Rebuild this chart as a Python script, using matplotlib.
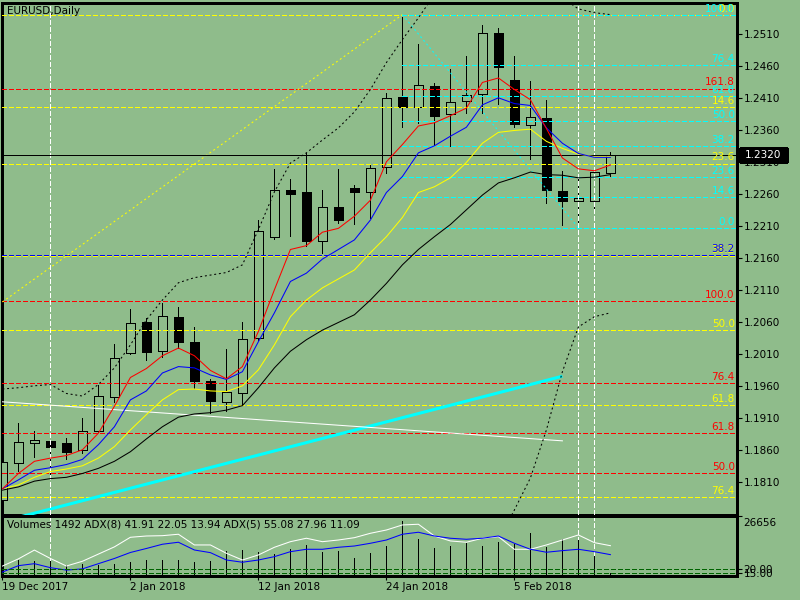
import numpy as np
import matplotlib
matplotlib.use('Agg')
import matplotlib.pyplot as plt
import matplotlib.transforms as mtrans
from matplotlib.patches import Rectangle

plt.rcParams['font.family'] = 'DejaVu Sans'
plt.rcParams['font.size'] = 7.5
plt.rcParams['lines.scale_dashes'] = False
plt.rcParams['patch.antialiased'] = False

BG = '#8fbc8b'
CYAN = '#00ffff'

# EURUSD daily bars, 19 Dec 2017 .. 13 Feb 2018
opens = [1.1782, 1.1839, 1.1871, 1.1874, 1.1870, 1.1859, 1.1890, 1.1943, 1.2011, 1.2060,
         1.2015, 1.2068, 1.2029, 1.1968, 1.1935, 1.1949, 1.2035, 1.2193, 1.2266, 1.2263,
         1.2187, 1.2240, 1.2269, 1.2263, 1.2302, 1.2412, 1.2396, 1.2429, 1.2385, 1.2405,
         1.2416, 1.2512, 1.2438, 1.2368, 1.2379, 1.2265, 1.2248, 1.2248, 1.2293]
highs = [1.1843, 1.1902, 1.1889, 1.1875, 1.1878, 1.1910, 1.1962, 1.2026, 1.2080, 1.2066,
         1.2090, 1.2083, 1.2052, 1.1970, 1.2018, 1.2060, 1.2219, 1.2298, 1.2283, 1.2324,
         1.2266, 1.2298, 1.2274, 1.2305, 1.2418, 1.2537, 1.2494, 1.2433, 1.2455, 1.2476,
         1.2523, 1.2519, 1.2476, 1.2437, 1.2407, 1.2296, 1.2283, 1.2294, 1.2326]
lows = [1.1779, 1.1827, 1.1848, 1.1814, 1.1845, 1.1855, 1.1888, 1.1935, 1.2010, 1.2001,
        1.2005, 1.2019, 1.1957, 1.1918, 1.1921, 1.1932, 1.2032, 1.2190, 1.2194, 1.2179,
        1.2168, 1.2215, 1.2213, 1.2222, 1.2293, 1.2365, 1.2371, 1.2337, 1.2335, 1.2387,
        1.2387, 1.2400, 1.2365, 1.2315, 1.2246, 1.2212, 1.2207, 1.2237, 1.2288]
closes = [1.1841, 1.1872, 1.1876, 1.1864, 1.1857, 1.1890, 1.1944, 1.2004, 1.2058, 1.2013,
          1.2069, 1.2029, 1.1968, 1.1937, 1.1951, 1.2033, 1.2202, 1.2266, 1.2260, 1.2187,
          1.2240, 1.2219, 1.2263, 1.2301, 1.2410, 1.2396, 1.2430, 1.2382, 1.2404, 1.2415,
          1.2512, 1.2458, 1.2369, 1.2380, 1.2266, 1.2248, 1.2254, 1.2294, 1.2320]

# moving averages as drawn on the chart
ma_red = [1.1799, 1.1823, 1.1842, 1.1847, 1.1851, 1.1860, 1.1886, 1.1928, 1.1973, 1.1987,
          1.2007, 1.2019, 1.2007, 1.1984, 1.1971, 1.1990, 1.2045, 1.2110, 1.2173, 1.2179,
          1.2200, 1.2206, 1.2225, 1.2250, 1.2310, 1.2337, 1.2366, 1.2371, 1.2382, 1.2394,
          1.2434, 1.2441, 1.2423, 1.2407, 1.2362, 1.2316, 1.2299, 1.2296, 1.2305]
ma_blue = [1.1799, 1.1813, 1.1828, 1.1832, 1.1837, 1.1845, 1.1868, 1.1896, 1.1938, 1.1952,
           1.1980, 1.1990, 1.1988, 1.1977, 1.1970, 1.1982, 1.2029, 1.2074, 1.2123, 1.2136,
           1.2158, 1.2173, 1.2188, 1.2219, 1.2262, 1.2287, 1.2324, 1.2335, 1.2350, 1.2364,
           1.2399, 1.2410, 1.2401, 1.2398, 1.2363, 1.2339, 1.2323, 1.2317, 1.2317]
ma_yellow = [1.1799, 1.1805, 1.1817, 1.1826, 1.1830, 1.1835, 1.1847, 1.1865, 1.1891, 1.1915,
             1.1938, 1.1954, 1.1955, 1.1952, 1.1951, 1.1960, 1.1985, 1.2024, 1.2068, 1.2094,
             1.2113, 1.2127, 1.2141, 1.2168, 1.2193, 1.2223, 1.2262, 1.2271, 1.2285, 1.2309,
             1.2339, 1.2356, 1.2359, 1.2361, 1.2342, 1.2331, 1.2322, 1.2318, 1.2318]
ma_black = [1.1797, 1.1802, 1.1811, 1.1815, 1.1817, 1.1823, 1.1831, 1.1842, 1.1857, 1.1877,
            1.1896, 1.1911, 1.1916, 1.1918, 1.1922, 1.1929, 1.1957, 1.1988, 1.2014, 1.2032,
            1.2047, 1.2059, 1.2071, 1.2094, 1.2120, 1.2149, 1.2173, 1.2193, 1.2212, 1.2235,
            1.2258, 1.2277, 1.2285, 1.2294, 1.2290, 1.2289, 1.2285, 1.2286, 1.2290]

# dotted envelope
band_upper = [1.1955, 1.1957, 1.1960, 1.1962, 1.1948, 1.1944, 1.1962, 1.1988, 1.2024, 1.2063,
              1.2094, 1.2121, 1.2129, 1.2133, 1.2137, 1.2149, 1.2204, 1.2263, 1.2308, 1.2324,
              1.2344, 1.2363, 1.2388, 1.2423, 1.2465, 1.2501, 1.2535, 1.2571, 1.2591, 1.2607,
              1.2619, 1.2622, 1.2613, 1.2598, 1.2579, 1.2566, 1.2549, 1.2543, 1.2540]
band_lower_start = 31
band_lower = [1.1719, 1.1766, 1.1816, 1.1891, 1.1982, 1.2052, 1.2068, 1.2074]

# volume / ADX subwindow
volumes = [4480, 7030, 6590, 6720, 4790, 5240, 4790, 5240, 6270, 7170,
           7170, 7170, 6410, 6720, 11200, 11650, 10890, 9720, 11960, 13890,
           10890, 11200, 8200, 10170, 13440, 24640, 16580, 12680, 13570, 14920,
           13570, 15370, 14200, 19400, 13130, 16440, 16130, 9090, 1492]
adx_white = [24.0, 33.0, 44.0, 33.5, 24.1, 30.0, 39.0, 48.0, 60.0, 61.6,
             62.0, 63.8, 50.4, 50.4, 40.0, 31.6, 37.9, 47.5, 54.5, 58.8,
             54.5, 56.6, 59.5, 65.0, 69.1, 75.4, 76.3, 61.6, 55.4, 53.8,
             58.8, 60.8, 45.0, 45.0, 50.4, 56.6, 62.9, 53.3, 49.5]
adx_blue = [16.5, 24.5, 27.0, 22.0, 19.0, 20.5, 27.0, 33.5, 41.0, 46.0,
            51.3, 53.8, 44.1, 40.8, 31.6, 28.8, 31.6, 35.8, 42.0, 45.0,
            45.0, 47.5, 49.1, 52.5, 56.6, 63.8, 66.3, 61.6, 58.8, 57.5,
            58.8, 61.6, 52.5, 45.0, 41.3, 43.3, 45.0, 42.0, 38.3]
adx_levels = [20.0, 15.0]
adx8_vals = [41.91, 22.05, 13.94]
adx5_vals = [55.08, 27.96, 11.09]
vol_max = 26656

tick_pos = [0, 8, 16, 24, 32]
tick_dates = ['19 Dec 2017', '2 Jan 2018', '12 Jan 2018', '24 Jan 2018', '5 Feb 2018']

# fibonacci objects: (price at 0%, price at 100%)
fib_levels = [0.0, 14.6, 23.6, 38.2, 50.0, 61.8, 76.4, 100.0]
fib_red_levels = [50.0, 61.8, 76.4, 100.0, 161.8]
fib_yellow = (1.2540, 1.1554)
fib_red = (1.1554, 1.2092)
fib_cyan = (1.2207, 1.2540)
fib_cyan_start = 25
blue_level = 1.2165
blue_label = 38.2

# trend lines (bar index, price)
cyan_trend_x, cyan_trend_y = [0, 35], [1.1748, 1.1975]
white_trend_x, white_trend_y = [0, 35], [1.1935, 1.1874]
yellow_diag_x, yellow_diag_y = [0, 25], [1.2091, 1.2540]
cyan_diag_x, cyan_diag_y = [25, 36], [1.2540, 1.2207]
vmarks = [3, 36, 37]

n = len(opens)
idx = np.arange(n)
xmax = 45.9
ylo, yhi = 1.17589, 1.25589
dash = (0, (2.9, 1.5))
dots = (0, (1.4, 2.0))
LW = 0.55     # crisp 1px horizontal / vertical lines
LWA = 0.75    # antialiased curves

fig = plt.figure(figsize=(8, 6), dpi=100, facecolor=BG)
ax = fig.add_axes([0.003, 0.1425, 0.918, 0.8533])
axv = fig.add_axes([0.003, 0.04, 0.918, 0.0992])
for a in (ax, axv):
    a.set_facecolor(BG)
    a.set_xlim(0, xmax)
    for s in a.spines.values():
        s.set_color('black')
        s.set_linewidth(1)
ax.set_ylim(ylo, yhi)

# candles
o, h, l, c = map(np.array, (opens, highs, lows, closes))
bull = c >= o
ax.vlines(idx, l, h, color='black', lw=LW, zorder=2, antialiased=False)
body = np.maximum(np.abs(c - o), 0.00008)
ax.bar(idx, body, 0.58, bottom=np.minimum(o, c),
       color=[BG if b else 'black' for b in bull],
       edgecolor='black', linewidth=LW, zorder=3)


def fib(levels, p0, p100, color, x0=None):
    for lv in levels:
        y = p0 + (p100 - p0) * lv / 100.0
        if not (ylo < y < yhi):
            continue
        ax.hlines(y, 0 if x0 is None else x0, xmax, color=color, lw=LW, ls=dash,
                  zorder=4, antialiased=False)
        ax.annotate('%.1f' % lv, xy=(1, y), xycoords=('axes fraction', 'data'),
                    xytext=(-1.5, 2.2), textcoords='offset points',
                    ha='right', va='baseline', color=color, fontsize=7.5,
                    zorder=6, annotation_clip=False)


fib(fib_levels, fib_yellow[0], fib_yellow[1], 'yellow')
fib(fib_levels, fib_cyan[0], fib_cyan[1], CYAN, x0=fib_cyan_start)
fib(fib_red_levels, fib_red[0], fib_red[1], 'red')
ax.hlines(blue_level, 0, xmax, color='blue', lw=LW, ls=dash, zorder=4, antialiased=False)
ax.annotate('%.1f' % blue_label, xy=(1, blue_level), xycoords=('axes fraction', 'data'),
            xytext=(-1.5, 2.2), textcoords='offset points', ha='right', va='baseline',
            color='blue', fontsize=7.5, zorder=6)

# trend lines and markers
ax.plot(cyan_trend_x, cyan_trend_y, color=CYAN, lw=2.2, zorder=4, solid_capstyle='butt')
ax.plot(white_trend_x, white_trend_y, color='white', lw=LWA, zorder=4)
ax.plot(yellow_diag_x, yellow_diag_y, color='yellow', lw=LWA, ls=dots, zorder=4)
ax.plot(cyan_diag_x, cyan_diag_y, color=CYAN, lw=LWA, ls=dots, zorder=4)
for v in vmarks:
    ax.vlines(v, ylo, yhi, color='white', lw=LW, ls=(0, (3, 2)), zorder=4, antialiased=False)
    axv.vlines(v, 0, vol_max, color='white', lw=LW, ls=(0, (3, 2)), zorder=1, antialiased=False)
ax.hlines(closes[-1], 0, xmax, color='black', lw=LW, zorder=4, antialiased=False)

# indicators
ax.plot(idx, band_upper, color='black', lw=LWA, ls=dots, zorder=5)
ax.plot(idx[band_lower_start:], band_lower, color='black', lw=LWA, ls=dots, zorder=5)
ax.plot(idx, ma_black, color='black', lw=LWA, zorder=5)
ax.plot(idx, ma_yellow, color='yellow', lw=LWA, zorder=5)
ax.plot(idx, ma_blue, color='blue', lw=LWA, zorder=5)
ax.plot(idx, ma_red, color='red', lw=LWA, zorder=5)

# price axis
ax.yaxis.tick_right()
ticks = np.arange(1.1810, 1.2511, 0.005)
ax.set_yticks(ticks)
ax.set_yticklabels(['%.4f' % t for t in ticks])
ax.tick_params(axis='y', direction='out', length=3.5, width=0.8, pad=1.5,
               labelsize=7.5, colors='black')
ax.set_xticks([])

trans = mtrans.blended_transform_factory(ax.transAxes, ax.transData)
hh = 7 / 6400.0
ax.add_patch(Rectangle((1.004, closes[-1] - hh), 0.064, 2 * hh, transform=trans,
                       clip_on=False, fc='black', ec='black', zorder=7))
ax.text(1.011, closes[-1], '%.4f' % closes[-1], transform=trans, color='white',
        va='center', ha='left', fontsize=7.5, zorder=8, clip_on=False)

fig.text(7 / 800, 1 - 11 / 600, 'EURUSD,Daily', va='center', ha='left', fontsize=7.5)

# volume + ADX panel
axv.vlines(idx, 0, volumes, color='black', lw=LW, zorder=2, antialiased=False)
axv.set_ylim(0, vol_max)
axv.set_xticks(tick_pos)
axv.set_xticklabels(tick_dates)
for lab in axv.get_xticklabels():
    lab.set_ha('left')
axv.tick_params(axis='x', direction='out', length=3, width=0.8, pad=1.5, labelsize=7.5)

axa = axv.twinx()
axa.set_ylim(11.6, 86.0)
axa.plot(idx, adx_white, color='white', lw=LWA)
axa.plot(idx, adx_blue, color='blue', lw=LWA)
for lv in adx_levels:
    axa.hlines(lv, 0, xmax, color='#006400', lw=LW, ls=dash, antialiased=False)
axa.set_yticks(adx_levels)
axa.set_yticklabels(['%.2f' % v for v in adx_levels])
axa.tick_params(axis='y', direction='out', length=3.5, width=0.8, pad=1.5, labelsize=7.5)
for s in axa.spines.values():
    s.set_visible(False)

axv.yaxis.tick_right()
axv.set_yticks([vol_max])
axv.set_yticklabels([''])
axv.tick_params(axis='y', direction='out', length=3.5, width=0.8)
fig.text(743 / 800, 1 - 523.5 / 600, str(vol_max), va='center', ha='left', fontsize=7.5)

title = 'Volumes %d ADX(8) %s ADX(5) %s' % (
    volumes[-1], ' '.join('%.2f' % v for v in adx8_vals), ' '.join('%.2f' % v for v in adx5_vals))
fig.text(7 / 800, 1 - 524.5 / 600, title, va='center', ha='left', fontsize=7.5)

fig.savefig('out.png', dpi=100, facecolor=BG)
